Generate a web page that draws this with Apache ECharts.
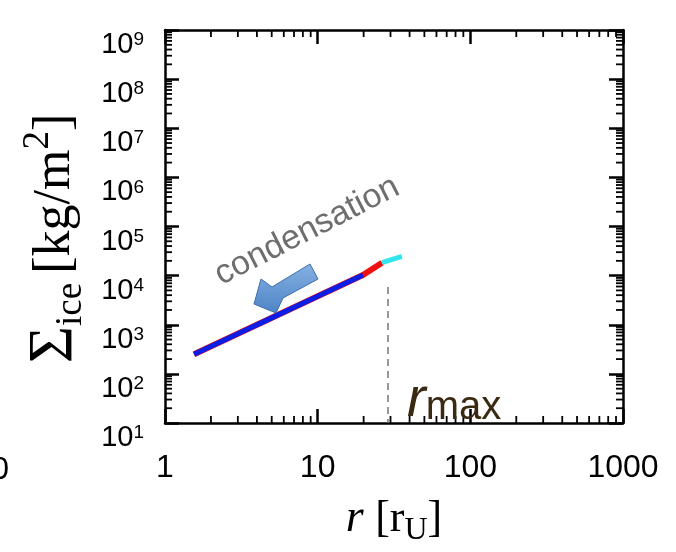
<!DOCTYPE html>
<html>
<head>
<meta charset="utf-8">
<script src="https://cdn.jsdelivr.net/npm/echarts@6/dist/echarts.min.js"></script>
<style>
html, body { margin: 0; padding: 0; background: #fff; }
#chart { width: 676px; height: 552px; }
</style>
</head>
<body>
<div id="chart"></div>
<script>
// axis ranges (log scale)
var xMin = 1, xMax = 1000;
var yMin = 10, yMax = 1e9;

// surface density of ice vs radius
var blueR = [1.55, 3, 5, 10, 19.8];
var blueS = [250, 655, 1380, 3800, 10300];
var redR = [1.55, 10, 19.8, 26.4];
var redS = [250, 3800, 10300, 18300];
var cyanR = [26.4, 35.6];
var cyanS = [18300, 24700];

// r_max marker
var rMax = 28.9;
var rMaxTop = 5900;

function pairs(xs, ys) {
    return xs.map(function(x, i) { return [x, ys[i]]; });
}

var chart = echarts.init(document.getElementById('chart'));

var axisLine = { show: true, lineStyle: { color: '#000', width: 2.5 } };
var majorTick = { show: true, inside: true, length: 14, lineStyle: { color: '#000', width: 2.5 } };

chart.setOption({
    animation: false,
    grid: { left: 165, right: 53, top: 30, bottom: 121 },
    xAxis: [{
        type: 'log', logBase: 10, min: xMin, max: xMax,
        position: 'bottom',
        axisLine: axisLine, axisTick: majorTick, splitLine: { show: false },
        axisLabel: {
            margin: 29, color: '#000', fontSize: 32, fontFamily: 'Liberation Sans',
            formatter: function(v) { return String(v); }
        },
        name: '{i|r }{n|[r}{sub|U}{n|]}',
        nameLocation: 'middle', nameGap: 68,
        nameTextStyle: {
            rich: {
                i: { fontFamily: 'Liberation Serif', fontStyle: 'italic', fontSize: 46, lineHeight: 56, color: '#000' },
                n: { fontFamily: 'Liberation Serif', fontSize: 44, lineHeight: 56, color: '#000' },
                sub: { fontFamily: 'Liberation Serif', fontSize: 32, lineHeight: 30, verticalAlign: 'bottom', color: '#000' }
            }
        }
    }, {
        type: 'log', logBase: 10, min: xMin, max: xMax,
        position: 'top',
        axisLine: axisLine, axisTick: majorTick, axisLabel: { show: false }, splitLine: { show: false }
    }],
    yAxis: [{
        type: 'log', logBase: 10, min: yMin, max: yMax,
        position: 'left',
        axisLine: axisLine, axisTick: majorTick, splitLine: { show: false },
        axisLabel: {
            margin: 21,
            padding: [30, 0, 0, 0],
            formatter: function(v) {
                return '{b|10}{s|' + Math.round(Math.log10(v)) + '}';
            },
            rich: {
                b: { fontFamily: 'Liberation Sans', fontSize: 29, lineHeight: 29, color: '#000' },
                s: { fontFamily: 'Liberation Sans', fontSize: 19, lineHeight: 19, verticalAlign: 'top', color: '#000' }
            }
        },
        name: '{g|Σ}{sub|ice }{n|[kg/m}{sup|2}{n|]}',
        nameLocation: 'middle', nameRotate: 90, nameGap: 74,
        nameTextStyle: {
            padding: [0, 24, 0, 0],
            rich: {
                g: { fontFamily: 'Liberation Serif', fontSize: 64, lineHeight: 70, color: '#000' },
                n: { fontFamily: 'Liberation Serif', fontSize: 52, lineHeight: 70, color: '#000' },
                sub: { fontFamily: 'Liberation Serif', fontSize: 37, lineHeight: 36, verticalAlign: 'bottom', color: '#000' },
                sup: { fontFamily: 'Liberation Serif', fontSize: 37, lineHeight: 36, verticalAlign: 'top', color: '#000' }
            }
        }
    }, {
        type: 'log', logBase: 10, min: yMin, max: yMax,
        position: 'right',
        axisLine: axisLine, axisTick: majorTick, axisLabel: { show: false }, splitLine: { show: false }
    }],
    series: [{
        type: 'line', data: pairs(redR, redS), showSymbol: false,
        lineStyle: { color: '#ee1111', width: 6 }, z: 2
    }, {
        type: 'line', data: pairs(blueR, blueS), showSymbol: false,
        lineStyle: { color: '#0a1ee6', width: 5 }, z: 3
    }, {
        type: 'line', data: pairs(cyanR, cyanS), showSymbol: false,
        lineStyle: { color: '#33e6ee', width: 5 }, z: 3,
        markLine: {
            silent: true, symbol: 'none', label: { show: false },
            lineStyle: { color: '#777', width: 1.5, type: [7, 5] },
            data: [[{ coord: [rMax, rMaxTop] }, { coord: [rMax, yMin] }]]
        }
    }]
});

// minor ticks at 2..9 of each decade, placed with the axis scales
function minorValues(lo, hi) {
    var out = [];
    for (var d = lo; d < hi; d *= 10) {
        for (var k = 2; k <= 9; k++) out.push(d * k);
    }
    return out;
}
var xl = chart.convertToPixel({ xAxisIndex: 0 }, xMin);
var xr = chart.convertToPixel({ xAxisIndex: 0 }, xMax);
var yb = chart.convertToPixel({ yAxisIndex: 0 }, yMin);
var yt = chart.convertToPixel({ yAxisIndex: 0 }, yMax);
var tickStyle = { stroke: '#000', lineWidth: 1.8 };
var els = [];
minorValues(xMin, xMax).forEach(function(v) {
    var x = chart.convertToPixel({ xAxisIndex: 0 }, v);
    els.push({ type: 'line', shape: { x1: x, y1: yb, x2: x, y2: yb - 7 }, style: tickStyle, silent: true });
    els.push({ type: 'line', shape: { x1: x, y1: yt, x2: x, y2: yt + 7 }, style: tickStyle, silent: true });
});
minorValues(yMin, yMax).forEach(function(v) {
    var y = chart.convertToPixel({ yAxisIndex: 0 }, v);
    els.push({ type: 'line', shape: { x1: xl, y1: y, x2: xl + 7, y2: y }, style: tickStyle, silent: true });
    els.push({ type: 'line', shape: { x1: xr, y1: y, x2: xr - 7, y2: y }, style: tickStyle, silent: true });
});

// annotations
els.push({
    type: 'polygon', z: 10,
    shape: { points: [[254, 304], [261, 279], [272, 287], [310, 264], [318, 279], [283, 298], [276, 313]] },
    style: {
        fill: new echarts.graphic.LinearGradient(0, 0, 0, 1, [
            { offset: 0, color: '#86b1e2' },
            { offset: 1, color: '#4d84c6' }
        ]),
        stroke: '#3d6fae', lineWidth: 1
    }
});
els.push({
    type: 'text', x: 307, y: 231, rotation: 27 * Math.PI / 180, z: 10,
    style: {
        text: 'condensation', fill: '#6e6e6e', fontSize: 34,
        fontFamily: 'Liberation Sans', align: 'center', verticalAlign: 'middle'
    }
});
els.push({
    type: 'text', x: 407, y: 428, z: 10,
    style: {
        text: '{r|r}{m|max}', verticalAlign: 'bottom',
        rich: {
            r: { fontFamily: 'Liberation Sans', fontStyle: 'italic', fontSize: 56, lineHeight: 56, fill: '#3a2a12' },
            m: { fontFamily: 'Liberation Sans', fontSize: 40, lineHeight: 30, verticalAlign: 'bottom', fill: '#3a2a12' }
        }
    }
});
els.push({
    type: 'text', x: 9, y: 470,
    style: { text: '0', fontFamily: 'Liberation Sans', fontSize: 32, fill: '#000', align: 'right', verticalAlign: 'middle' }
});
chart.setOption({ graphic: els });
</script>
</body>
</html>
